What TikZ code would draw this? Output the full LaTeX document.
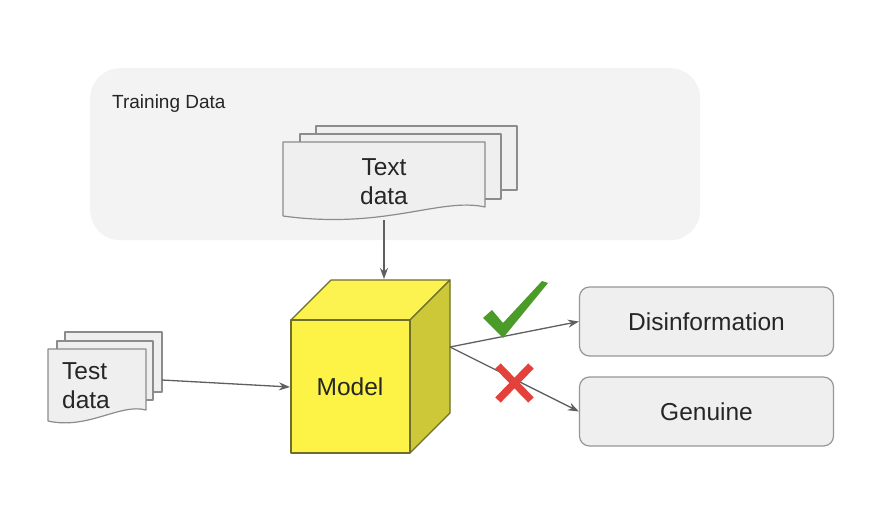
\documentclass[tikz,border=0pt]{standalone}
\usepackage{fontspec}
\setmainfont{Liberation Sans}
\usetikzlibrary{arrows.meta}
\definecolor{panelgray}{RGB}{243,243,243}
\definecolor{docfill}{RGB}{239,239,239}
\definecolor{docline}{RGB}{140,140,140}
\definecolor{arrgray}{RGB}{95,95,95}
\definecolor{yfront}{RGB}{252,243,70}
\definecolor{ytop}{RGB}{252,243,80}
\definecolor{yside}{RGB}{205,200,55}
\definecolor{cubeline}{RGB}{110,110,45}
\definecolor{okgreen}{RGB}{75,155,40}
\definecolor{nored}{RGB}{228,65,60}
\begin{document}
\begin{tikzpicture}[x=1pt,y=-1pt,
  lbl/.style={font=\fontsize{24.5}{29}\selectfont, text=black!85, inner sep=0pt},
  docshape/.style={draw=docline, fill=docfill, line width=1.2pt, line join=round},
  cubeedge/.style={draw=cubeline, line width=1.2pt, line join=round},
  outbox/.style={draw=docline!90, fill=docfill, line width=1.2pt, rounded corners=10pt,
    minimum width=254pt, minimum height=69pt, font=\fontsize{24.5}{29}\selectfont, text=black!85},
  arr/.style={draw=arrgray, line width=1.3pt, -{Stealth[length=11pt,width=8pt]}}]
\useasboundingbox (0,0) rectangle (872,516);
\fill[white] (0,0) rectangle (872,516);
% training data panel
\node[fill=panelgray, rounded corners=30pt, minimum width=610pt, minimum height=172pt,
  anchor=north west, inner sep=0pt] (train) at (90,68) {};
\node[font=\fontsize{19}{22}\selectfont, text=black!85, anchor=base west, inner sep=0pt]
  (trainlabel) at (112,109) {Training Data};
% text data stack
\draw[docshape] (316,126) rectangle (517,190);
\draw[docshape] (300,134) rectangle (501,199);
\draw[docshape] (283,142) -- (485,142) -- (485,207)
  .. controls (440,197) and (385,230) .. (283,216) -- cycle;
\node[lbl, align=center] (textdata) at (384,182) {Text\\data};
\coordinate (textdatabottom) at (384,220);
% test data stack
\draw[docshape] (65,332) rectangle (162,392);
\draw[docshape] (57,341) rectangle (153,400);
\draw[docshape] (48,349) -- (146,349) -- (146,410)
  .. controls (120,403) and (88,430) .. (48,421) -- cycle;
\node[lbl, align=left] (testdata) at (86,386) {Test\\data};
\coordinate (testdataright) at (162,380);
% cube
\draw[cubeedge, fill=ytop] (291,320) -- (331,280) -- (450,280) -- (410,320) -- cycle;
\draw[cubeedge, fill=yside] (410,320) -- (450,280) -- (450,413) -- (410,453) -- cycle;
\draw[cubeedge, fill=yfront] (291,320) rectangle (410,453);
\node[lbl] (model) at (350,387) {Model};
\coordinate (cubetop) at (384,279);
\coordinate (cubeleft) at (290,387);
\coordinate (cubeout) at (450,347);
% outputs
\node[outbox] (disinfo) at (706.5,321.5) {Disinformation};
\node[outbox] (genuine) at (706.5,411.5) {Genuine};
% connectors
\draw[arr] (textdatabottom) -- (cubetop);
\draw[arr] (testdataright) -- (cubeleft);
\draw[arr] (cubeout) -- (disinfo.west);
\draw[arr] (cubeout) -- (genuine.west);
% check mark
\fill[okgreen] (483,318) -- (492,310) -- (503,323) -- (542,281) -- (548,283) -- (503,338) -- cycle;
% cross
\draw[nored, line width=7.5pt] (498,366) -- (531,400);
\draw[nored, line width=7.5pt] (531,366) -- (498,400);
\end{tikzpicture}
\end{document}
